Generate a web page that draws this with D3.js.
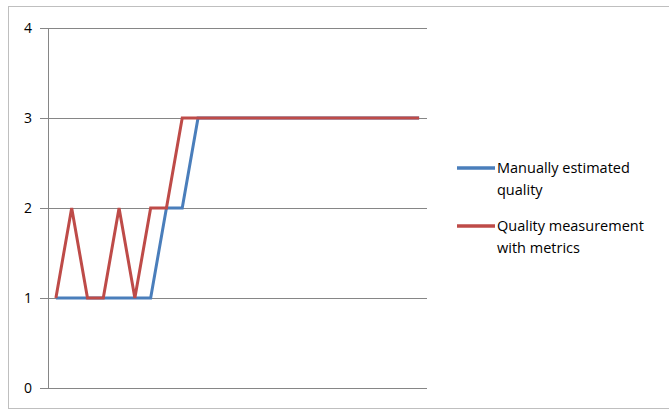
<!DOCTYPE html>
<html>
<head>
<meta charset="utf-8">
<script src="https://cdn.jsdelivr.net/npm/d3@7"></script>
<style>
  body { margin: 0; background: #fff; }
  svg { display: block; }
</style>
</head>
<body>
<div id="chart"></div>
<script>
// data: 24 unlabeled items
const items = d3.range(1, 25)
const manualQuality = [1, 1, 1, 1, 1, 1, 1, 2, 2, 3, 3, 3, 3, 3, 3, 3, 3, 3, 3, 3, 3, 3, 3, 3]
const metricQuality = [1, 2, 1, 1, 2, 1, 2, 2, 3, 3, 3, 3, 3, 3, 3, 3, 3, 3, 3, 3, 3, 3, 3, 3]
const yTicks = [0, 1, 2, 3, 4]
const seriesColors = ["#4a7ebb", "#be4b48"]
const legendLines = [["Manually estimated", "quality"], ["Quality measurement", "with metrics"]]

const width = 669, height = 410
const margin = { left: 48, right: 242, top: 28, bottom: 22 }
const fontFamily = "'Open Sans', 'Noto Sans', sans-serif"

const svg = d3.select("#chart").append("svg")
  .attr("width", width)
  .attr("height", height)

// outer chart frame
svg.append("rect")
  .attr("x", 8.5).attr("y", 6.5)
  .attr("width", width + 10).attr("height", height - 8)
  .attr("fill", "none")
  .attr("stroke", "#bfbfbf")

const x = d3.scalePoint()
  .domain(items)
  .range([margin.left, width - margin.right])
  .padding(0.5)

const y = d3.scaleLinear()
  .domain([0, 4])
  .range([height - margin.bottom, margin.top])

// gridlines + y ticks
const yAxis = svg.append("g")
  .attr("transform", `translate(${margin.left},0)`)
  .call(d3.axisLeft(y).tickValues(yTicks).tickFormat(d3.format("d"))
    .tickSize(-(width - margin.right - margin.left)).tickSizeOuter(0).tickPadding(16))
yAxis.select(".domain").remove()
yAxis.selectAll(".tick line")
  .attr("x1", -8)
  .attr("stroke", "#868686")
yAxis.selectAll(".tick text")
  .attr("font-family", fontFamily)
  .attr("font-size", 14)
  .attr("fill", "#000")

// vertical axis line
svg.append("line")
  .attr("x1", margin.left + 0.5).attr("x2", margin.left + 0.5)
  .attr("y1", y(4)).attr("y2", y(0))
  .attr("stroke", "#868686")

const line = d3.line()
  .x((d, i) => x(items[i]))
  .y(d => y(d))

;[manualQuality, metricQuality].forEach((values, k) => {
  svg.append("path")
    .datum(values)
    .attr("d", line)
    .attr("fill", "none")
    .attr("stroke", seriesColors[k])
    .attr("stroke-width", 3)
    .attr("stroke-linejoin", "miter")
})

// legend
const legendY = [168, 226]
legendLines.forEach((lines, k) => {
  const g = svg.append("g").attr("transform", `translate(457,${legendY[k]})`)
  g.append("line")
    .attr("x1", 0).attr("x2", 38)
    .attr("stroke", seriesColors[k])
    .attr("stroke-width", 3.5)
  g.append("text")
    .attr("font-family", fontFamily)
    .attr("font-size", 14.5)
    .selectAll("tspan")
    .data(lines)
    .join("tspan")
      .attr("x", 40)
      .attr("y", (d, i) => i * 22 + 5)
      .text(d => d)
})
</script>
</body>
</html>
